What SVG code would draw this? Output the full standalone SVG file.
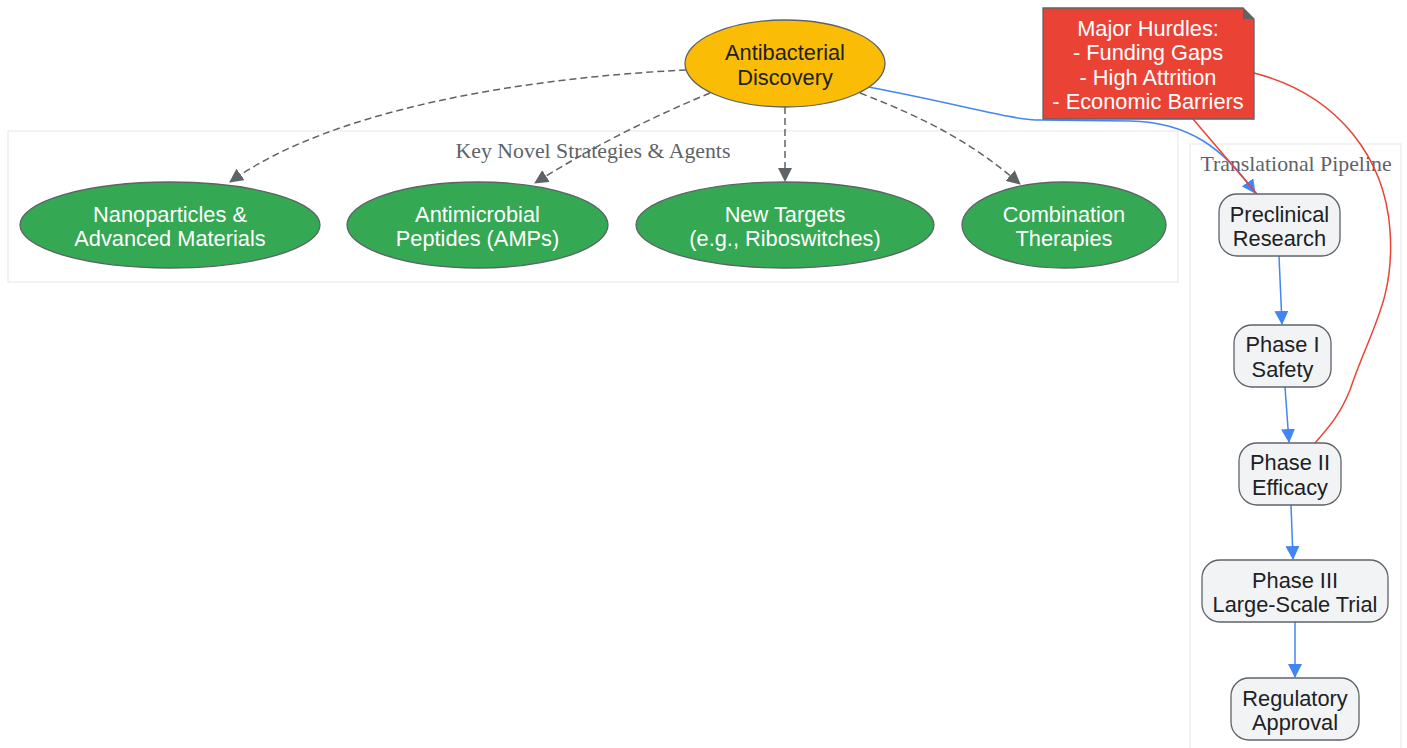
<svg xmlns="http://www.w3.org/2000/svg" width="1407" height="748" viewBox="0 0 1407 748">
<style>
.cl{fill:#fff;stroke:#eeeeee;stroke-width:1.5}
.clt{font-family:"Liberation Serif",serif;font-size:21.8px;fill:#5f6368;text-anchor:middle}
.g{fill:#34a853;stroke:#5f6368;stroke-width:1.3}
.wt{font-family:"Liberation Sans",Arial,sans-serif;font-size:21.8px;fill:#fff;text-anchor:middle}
.dt{font-family:"Liberation Sans",Arial,sans-serif;font-size:21.8px;fill:#202124;text-anchor:middle}
.p{fill:#f1f3f4;stroke:#5f6368;stroke-width:1.3}
.dash{fill:none;stroke:#5f6368;stroke-width:1.5;stroke-dasharray:7 4}
.blue{fill:none;stroke:#4285f4;stroke-width:1.5}
.red{fill:none;stroke:#ea4335;stroke-width:1.5}
</style>
<defs>
<marker id="ag" viewBox="0 0 14 14" refX="13" refY="7" markerWidth="14" markerHeight="14" markerUnits="userSpaceOnUse" orient="auto"><path d="M0,0 L14,7 L0,14 z" fill="#5f6368"/></marker>
<marker id="ab" viewBox="0 0 14 14" refX="13" refY="7" markerWidth="14" markerHeight="14" markerUnits="userSpaceOnUse" orient="auto"><path d="M0,0 L14,7 L0,14 z" fill="#4285f4"/></marker>
</defs>
<g id="cluster-strategies">
<rect class="cl" x="8" y="131" width="1170" height="151"/>
<text class="clt" x="593" y="158">Key Novel Strategies &amp; Agents</text>
</g>
<g id="cluster-pipeline">
<rect class="cl" x="1190" y="144" width="211" height="610"/>
<text class="clt" x="1296" y="171">Translational Pipeline</text>
</g>
<g id="connectors">
<path class="dash" d="M686,70 C520,78 330,110 230,182" marker-end="url(#ag)"/>
<path class="dash" d="M710,93 C650,118 590,148 535,183" marker-end="url(#ag)"/>
<path class="dash" d="M785,107 L785,181" marker-end="url(#ag)"/>
<path class="dash" d="M860,93 C930,120 975,145 1020,184" marker-end="url(#ag)"/>
<path class="blue" d="M868,87 C960,104 1010,120 1040,120 L1130,121 C1190,122 1225,150 1255,193" marker-end="url(#ab)"/>
<path class="blue" d="M1279,256 L1282,324" marker-end="url(#ab)"/>
<path class="blue" d="M1285,387 L1289,442" marker-end="url(#ab)"/>
<path class="blue" d="M1291,505 L1293,559" marker-end="url(#ab)"/>
<path class="blue" d="M1295,622 L1295,677" marker-end="url(#ab)"/>
<path class="red" d="M1193,119 L1257,194"/>
<path class="red" d="M1254,73 C1340,95 1385,160 1390,230 C1395,300 1370,330 1350,390 C1340,415 1328,428 1315,443"/>
</g>
<g id="node-discovery">
<ellipse cx="785" cy="63.5" rx="100" ry="43.5" fill="#fbbc05" stroke="#5f6368" stroke-width="1.3"/>
<text class="dt" x="785" y="60">Antibacterial</text>
<text class="dt" x="785" y="85">Discovery</text>
</g>
<g id="node-hurdles">
<path d="M1043,8 L1243,8 L1254,19 L1254,119 L1043,119 Z" fill="#ea4335" stroke="#5f6368" stroke-width="1.3"/>
<path d="M1243,8 L1243,19 L1254,19 Z" fill="#5f6368"/>
<text class="wt" x="1148" y="36">Major Hurdles:</text>
<text class="wt" x="1148" y="60">- Funding Gaps</text>
<text class="wt" x="1148" y="85">- High Attrition</text>
<text class="wt" x="1148" y="109">- Economic Barriers</text>
</g>
<g id="node-nano">
<ellipse class="g" cx="170" cy="225" rx="150" ry="43"/>
<text class="wt" x="170" y="222">Nanoparticles &amp;</text>
<text class="wt" x="170" y="246">Advanced Materials</text>
</g>
<g id="node-amp">
<ellipse class="g" cx="477.5" cy="225" rx="130.5" ry="43"/>
<text class="wt" x="477.5" y="222">Antimicrobial</text>
<text class="wt" x="477.5" y="246">Peptides (AMPs)</text>
</g>
<g id="node-targets">
<ellipse class="g" cx="785" cy="225" rx="149" ry="43"/>
<text class="wt" x="785" y="222">New Targets</text>
<text class="wt" x="785" y="246">(e.g., Riboswitches)</text>
</g>
<g id="node-combo">
<ellipse class="g" cx="1064" cy="225" rx="102" ry="43"/>
<text class="wt" x="1064" y="222">Combination</text>
<text class="wt" x="1064" y="246">Therapies</text>
</g>
<g id="node-preclinical">
<rect class="p" x="1219" y="194" width="121" height="62" rx="18"/>
<text class="dt" x="1279.5" y="222">Preclinical</text>
<text class="dt" x="1279.5" y="246">Research</text>
</g>
<g id="node-phase1">
<rect class="p" x="1234" y="325" width="97" height="62" rx="18"/>
<text class="dt" x="1282.5" y="352">Phase I</text>
<text class="dt" x="1282.5" y="377">Safety</text>
</g>
<g id="node-phase2">
<rect class="p" x="1239" y="443" width="102" height="62" rx="18"/>
<text class="dt" x="1290" y="470">Phase II</text>
<text class="dt" x="1290" y="495">Efficacy</text>
</g>
<g id="node-phase3">
<rect class="p" x="1202" y="560" width="186" height="62" rx="18"/>
<text class="dt" x="1295" y="588">Phase III</text>
<text class="dt" x="1295" y="612">Large-Scale Trial</text>
</g>
<g id="node-approval">
<rect class="p" x="1231" y="678" width="128" height="62" rx="18"/>
<text class="dt" x="1295" y="706">Regulatory</text>
<text class="dt" x="1295" y="730">Approval</text>
</g>
</svg>
